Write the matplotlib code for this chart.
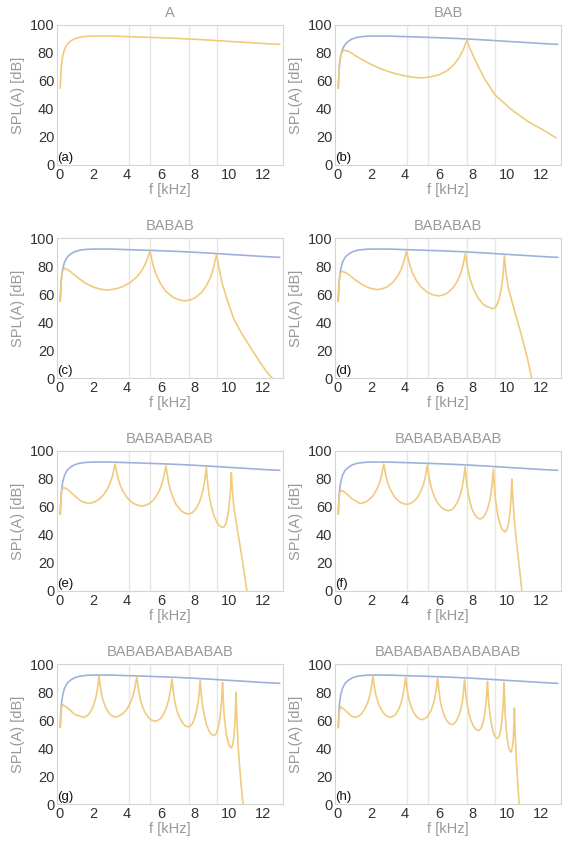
import matplotlib
matplotlib.use("Agg")
import matplotlib.pyplot as plt

plt.rcParams['font.family'] = ['Liberation Sans', 'DejaVu Sans']

# ---------------- data ----------------
titles = ["A", "BAB", "BABAB", "BABABAB", "BABABABAB",
          "BABABABABAB", "BABABABABABAB", "BABABABABABABAB"]
panel_labels = ["(a)", "(b)", "(c)", "(d)", "(e)", "(f)", "(g)", "(h)"]

# reference (single layer A) curve
freq_A = [0.05, 0.1, 0.15, 0.2, 0.3, 0.4, 0.5, 0.7, 0.9, 1.2, 1.6, 2, 3, 4,
          5, 6, 7, 8, 9, 10, 11, 12, 13]
spl_A = [55, 68, 74, 78, 82.5, 85, 86.8, 88.8, 90.2, 91.3, 91.9, 92.1, 92.1,
         91.7, 91.3, 90.9, 90.4, 89.8, 89.1, 88.3, 87.6, 86.8, 86.2]

freq_b = [0.05, 0.1, 0.15, 0.2, 0.3, 0.45, 0.7, 1, 1.5, 2, 2.5, 3, 3.5, 4, 4.5,
          5, 5.5, 6, 6.5, 6.9, 7.2, 7.45, 7.65, 7.8, 8.0, 8.33, 8.73, 9.31,
          10.3, 11.27, 12.25, 12.9]
spl_b = [55, 68, 75, 78.5, 81, 82, 81, 78.6, 75, 71.8, 69, 66.8, 65, 63.6,
         62.6, 62.2, 63, 64.5, 67.5, 72, 77, 83, 89.5, 84, 78.5, 70, 60.7, 50,
         39.3, 31, 24.3, 19.5]

freq_c = [0.05, 0.1, 0.18, 0.33, 0.6, 1.0, 1.5, 2.0, 2.4, 2.8, 3.31, 3.69, 4.2,
          4.59, 4.89, 5.12, 5.35, 5.53, 5.72, 5.97, 6.27, 6.68, 6.99, 7.4,
          7.77, 8.05, 8.43, 8.71, 8.93, 9.10, 9.27, 9.4, 9.6, 9.9, 10.3, 10.8,
          11.3, 11.8, 12.2, 12.55]
spl_c = [55, 70, 76.5, 78.5, 76.5, 72.5, 68, 65, 63.5, 62.8, 63.6, 65.0, 68.3,
         72.5, 77.2, 82.7, 90.5, 80.6, 73.5, 67.4, 62.1, 57.8, 56.1, 55, 56.0,
         57.6, 61.6, 66.6, 72.2, 78.8, 88, 80, 68, 56, 42, 31, 21.5, 12, 5, 0]

freq_d = [0.05, 0.1, 0.18, 0.29, 0.6, 1.0, 1.5, 1.9, 2.35, 2.70, 2.96, 3.30,
          3.56, 3.77, 3.92, 4.08, 4.25, 4.42, 4.65, 4.94, 5.32, 5.60, 5.98,
          6.29, 6.53, 6.84, 7.08, 7.27, 7.41, 7.55, 7.70, 7.85, 8.05, 8.29,
          8.62, 8.87, 9.2, 9.33, 9.43, 9.56, 9.66, 9.74, 9.80, 9.86, 9.95,
          10.1, 10.3, 10.6, 10.9, 11.2, 11.47]
spl_d = [55.5, 69, 75, 76.2, 74.5, 70.5, 66.5, 64.2, 63.1, 63.9, 65.3, 68.6,
         72.8, 77.5, 83, 90.7, 81.7, 75.3, 69.8, 65.0, 61.2, 59.6, 58.6, 59.5,
         61.0, 64.6, 69.2, 74.3, 80.3, 88.8, 77.8, 69.9, 63.3, 57.4, 52.6,
         50.7, 49.5, 50.6, 52.5, 57.1, 62.8, 69.3, 76.9, 87.6, 75, 64, 55, 42,
         29, 15, 0]

freq_e = [0.05, 0.1, 0.16, 0.24, 0.5, 0.9, 1.3, 1.7, 2.02, 2.26, 2.57, 2.81,
          3.0, 3.15, 3.29, 3.43, 3.57, 3.76, 4.0, 4.32, 4.55, 4.87, 5.15, 5.37,
          5.65, 5.86, 6.03, 6.16, 6.29, 6.41, 6.53, 6.69, 6.89, 7.16, 7.36,
          7.63, 7.84, 7.99, 8.20, 8.36, 8.48, 8.58, 8.67, 8.76, 8.85, 8.97,
          9.12, 9.31, 9.46, 9.66, 9.76, 9.83, 9.93, 10.0, 10.06, 10.11, 10.15,
          10.2, 10.3, 10.45, 10.6, 10.8, 11.07]
spl_e = [55, 68, 72.5, 74, 72.5, 68, 64, 62.5, 63.3, 64.8, 68.1, 72.4, 77.2,
         82.8, 90.7, 82.3, 76.3, 71.1, 66.6, 63, 61.5, 60.6, 61.5, 62.9, 66.4,
         70.7, 75.6, 81.4, 89.5, 79.8, 72.9, 67.0, 61.8, 57.7, 55.9, 54.9,
         55.9, 57.6, 61.6, 66.6, 72.3, 78.9, 88.3, 76.3, 67.7, 60.4, 53.9,
         48.7, 46.6, 45.3, 46.5, 48.4, 53.1, 59.0, 65.7, 73.5, 84.5, 74, 60,
         48, 37, 22, 0]

freq_f = [0.05, 0.1, 0.15, 0.22, 0.5, 0.9, 1.34, 1.62, 1.83, 2.11, 2.32, 2.49,
          2.61, 2.74, 2.86, 2.98, 3.15, 3.35, 3.62, 3.82, 4.09, 4.33, 4.52,
          4.76, 4.94, 5.09, 5.2, 5.31, 5.42, 5.53, 5.68, 5.87, 6.12, 6.30,
          6.55, 6.75, 6.9, 7.09, 7.24, 7.36, 7.45, 7.54, 7.62, 7.7, 7.81, 7.94,
          8.12, 8.25, 8.43, 8.59, 8.7, 8.86, 8.98, 9.07, 9.14, 9.21, 9.27,
          9.33, 9.42, 9.52, 9.66, 9.76, 9.9, 9.98, 10.04, 10.12, 10.18, 10.23,
          10.26, 10.3, 10.35, 10.45, 10.6, 10.75, 10.89]
spl_f = [55, 66, 70.5, 72, 70, 65.5, 62.5, 63.3, 64.8, 68.1, 72.4, 77.2, 82.8,
         90.7, 82.6, 76.8, 71.9, 67.6, 64.1, 62.7, 61.8, 62.6, 64.1, 67.4,
         71.7, 76.5, 82.1, 90, 80.8, 74.3, 68.7, 63.8, 59.9, 58.3, 57.3, 58.2,
         59.8, 63.6, 68.3, 73.7, 80, 88.8, 78.3, 70.8, 64.4, 58.8, 54.3, 52.4,
         51.3, 52.4, 54.1, 58.4, 63.8, 69.8, 76.9, 86.9, 74.4, 65.4, 57.8,
         51.1, 45.8, 43.5, 42.2, 43.3, 45.2, 49.8, 55.4, 61.9, 69.4, 80, 68,
         50, 32, 16, 0]

freq_g = [0.05, 0.1, 0.14, 0.2, 0.5, 0.9, 1.42, 1.60, 1.74, 1.93, 2.06, 2.17,
          2.26, 2.34, 2.43, 2.51, 2.63, 2.77, 2.96, 3.10, 3.29, 3.55, 3.74,
          3.99, 4.19, 4.34, 4.45, 4.57, 4.67, 4.76, 4.89, 5.06, 5.27, 5.43,
          5.65, 5.85, 6.0, 6.19, 6.34, 6.46, 6.55, 6.64, 6.73, 6.82, 6.93,
          7.08, 7.28, 7.42, 7.62, 7.76, 7.86, 8.0, 8.1, 8.19, 8.25, 8.31, 8.38,
          8.46, 8.56, 8.68, 8.84, 8.97, 9.13, 9.23, 9.31, 9.41, 9.48, 9.54,
          9.59, 9.63, 9.68, 9.72, 9.79, 9.86, 9.97, 10.05, 10.15, 10.20, 10.24,
          10.3, 10.34, 10.37, 10.40, 10.42, 10.47, 10.55, 10.65, 10.75, 10.84]
spl_g = [55, 65, 69.5, 71, 68.5, 64, 61.9, 62.8, 64.2, 67.8, 72.2, 77.1, 83,
         91.2, 83.1, 77.2, 72.3, 67.9, 64.4, 63.0, 62.1, 63.0, 64.4, 67.8,
         72.1, 77, 82.7, 90.7, 81.8, 75.5, 70.1, 65.3, 61.5, 60.0, 59, 59.9,
         61.4, 65.1, 69.6, 74.8, 80.8, 89.3, 79.7, 72.8, 67, 61.9, 57.7, 56.0,
         55, 56.0, 57.7, 61.8, 66.8, 72.6, 79.3, 88.8, 77.6, 69.6, 62.8, 56.8,
         52, 50.0, 48.8, 49.9, 51.8, 56.4, 62.1, 68.6, 76.2, 86.9, 73.8, 64.4,
         56.4, 49.4, 43.8, 41.4, 40, 41.2, 43.2, 48, 53.9, 60.7, 68.7, 79.8,
         62, 42, 25, 11, 0]

freq_h = [0.05, 0.1, 0.15, 0.22, 0.5, 0.8, 1.04, 1.25, 1.41, 1.62, 1.78, 1.91,
          2.0, 2.1, 2.19, 2.29, 2.41, 2.57, 2.78, 2.93, 3.14, 3.32, 3.45, 3.62,
          3.76, 3.86, 3.94, 4.02, 4.11, 4.2, 4.31, 4.46, 4.66, 4.80, 5.0, 5.18,
          5.32, 5.51, 5.64, 5.75, 5.84, 5.92, 6.0, 6.07, 6.17, 6.3, 6.47, 6.59,
          6.76, 6.91, 7.02, 7.17, 7.29, 7.38, 7.44, 7.51, 7.58, 7.66, 7.76,
          7.88, 8.04, 8.17, 8.33, 8.44, 8.52, 8.62, 8.7, 8.76, 8.81, 8.86,
          8.91, 8.97, 9.04, 9.13, 9.24, 9.33, 9.45, 9.53, 9.59, 9.66, 9.72,
          9.77, 9.8, 9.84, 9.88, 9.91, 9.96, 10.02, 10.1, 10.16, 10.24, 10.28,
          10.31, 10.36, 10.39, 10.41, 10.43, 10.45, 10.5, 10.58, 10.66, 10.73]
spl_h = [54.5, 64, 68, 69.3, 66.5, 63, 61.9, 62.8, 64.2, 67.8, 72.2, 77.1, 83,
         91.2, 83, 77.1, 72.2, 67.8, 64.2, 62.8, 61.9, 62.8, 64.2, 67.7, 72,
         76.9, 82.6, 90.7, 82.2, 76.1, 70.9, 66.3, 62.6, 61.1, 60.2, 61.1,
         62.6, 66.2, 70.6, 75.7, 81.7, 90, 80.7, 74, 68.4, 63.4, 59.4, 57.7,
         56.7, 57.7, 59.3, 63.1, 67.9, 73.4, 79.8, 88.8, 78.6, 71.3, 65.1,
         59.7, 55.3, 53.5, 52.4, 53.5, 55.2, 59.4, 64.7, 70.7, 77.7, 87.6,
         76.1, 68, 61, 54.9, 50, 47.9, 46.7, 47.9, 49.9, 54.7, 60.8, 67.6,
         75.6, 86.9, 73, 63, 54.5, 47.1, 41.1, 38.6, 37.1, 38.0, 39.6, 43.4,
         48.1, 53.5, 59.8, 68.6, 48, 28, 12, 0]

stack_freqs = [freq_A, freq_b, freq_c, freq_d, freq_e, freq_f, freq_g, freq_h]
stack_spls = [spl_A, spl_b, spl_c, spl_d, spl_e, spl_f, spl_g, spl_h]

grid_freqs = [4.1, 5.35, 7.65, 9.3]
x_ticks = [0, 2, 4, 6, 8, 10, 12]
y_ticks = [0, 20, 40, 60, 80, 100]

# ---------------- styling ----------------
ORANGE = '#F0CB7E'
BLUE = '#9DB2DA'
FRAME = '#D4D4D4'
GRID = '#E6E6E6'
LABEL_GRAY = '#999999'
TICK_COL = '#333333'

W, H = 569, 843
fig = plt.figure(figsize=(W / 100, H / 100), dpi=100)

col_left = [57, 335]
row_top = [25, 238, 451, 664]
ax_w, ax_h = 226, 140

for i in range(8):
    r, c = divmod(i, 2)
    left = col_left[c] / W
    bottom = 1 - (row_top[r] + ax_h) / H
    ax = fig.add_axes([left, bottom, ax_w / W, ax_h / H])
    for g in grid_freqs:
        ax.axvline(g, color=GRID, lw=1.0, zorder=0)
    if i > 0:
        ax.plot(freq_A, spl_A, color=BLUE, lw=1.2, zorder=2)
    ax.plot(stack_freqs[i], stack_spls[i], color=ORANGE, lw=1.2, zorder=3,
            solid_joinstyle='round')
    ax.set_xlim(-0.14, 13.2)
    ax.set_ylim(0, 100)
    ax.set_xticks(x_ticks)
    ax.set_yticks(y_ticks)
    ax.tick_params(length=0, labelsize=10.5, colors=TICK_COL, pad=2)
    for s in ax.spines.values():
        s.set_color(FRAME)
        s.set_linewidth(0.8)
    ax.set_title(titles[i], color=LABEL_GRAY, fontsize=10.5, pad=6)
    ax.set_xlabel("f [kHz]", color=LABEL_GRAY, fontsize=10.5, labelpad=1)
    ax.set_ylabel("SPL(A) [dB]", color=LABEL_GRAY, fontsize=10.5, labelpad=3)
    ax.text(0.0, 0.005, panel_labels[i], transform=ax.transAxes,
            ha='left', va='bottom', fontsize=9.5, color='#111111')

fig.savefig("out.png", dpi=100)
